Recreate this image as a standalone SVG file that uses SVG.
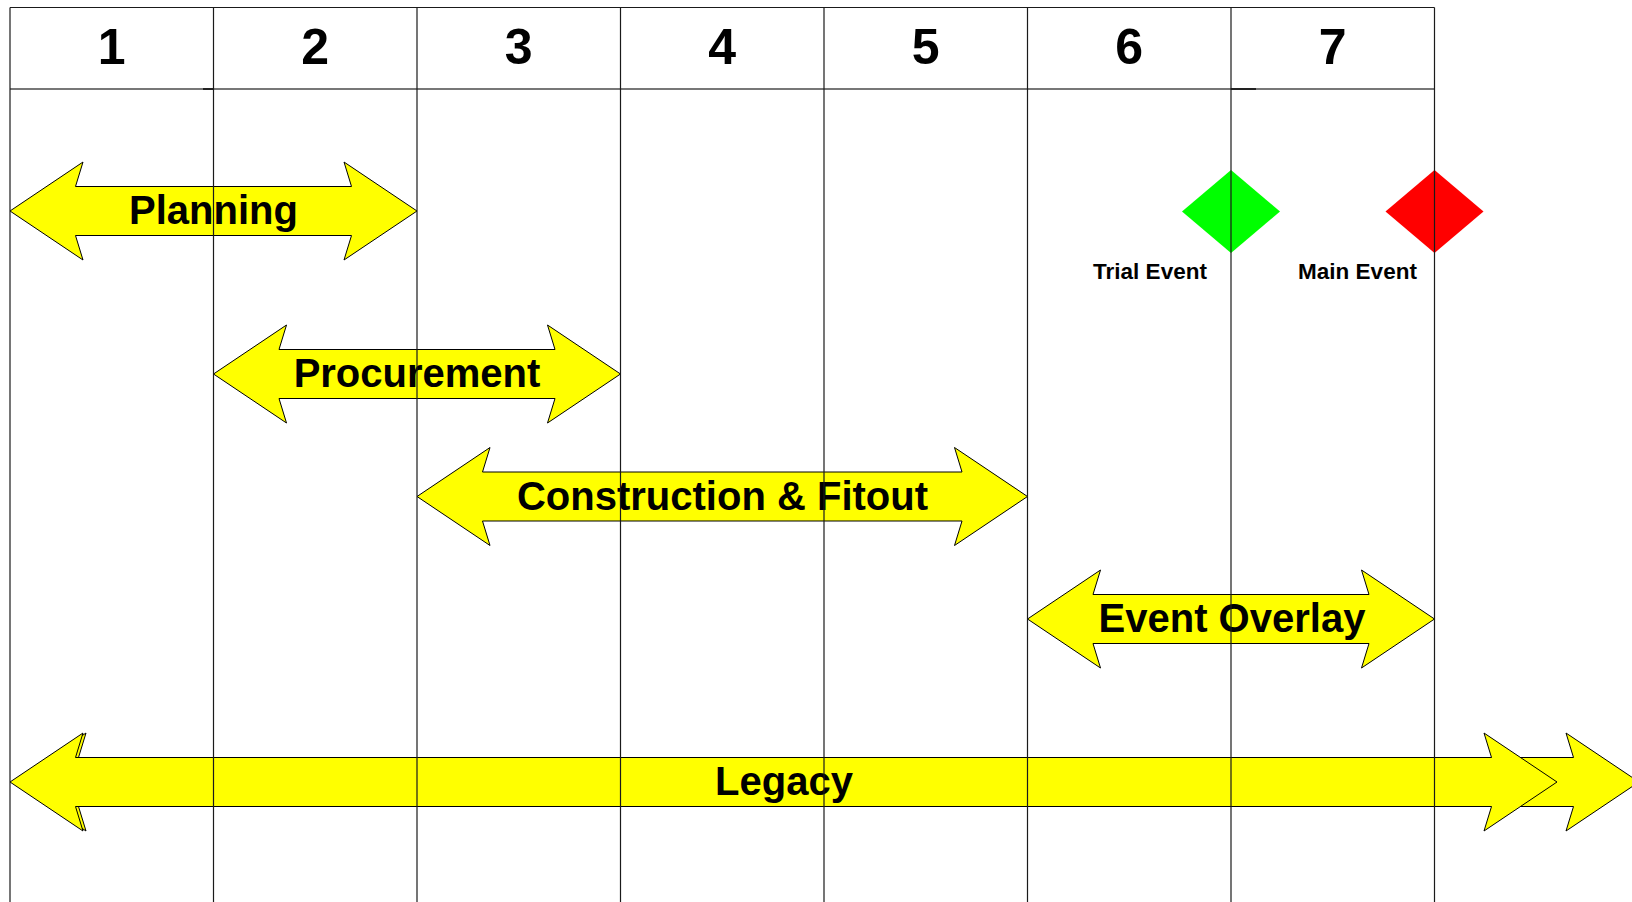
<svg xmlns="http://www.w3.org/2000/svg" width="1632" height="902" viewBox="0 0 1632 902">
<style>
.bg{fill:#ffffff}
.num{font-family:"Liberation Sans",Arial,sans-serif;font-weight:bold;font-size:50px;fill:#000;text-anchor:middle}
.lbl{font-family:"Liberation Sans",Arial,sans-serif;font-weight:bold;font-size:40px;fill:#000;text-anchor:middle}
.ev{font-family:"Liberation Sans",Arial,sans-serif;font-weight:bold;font-size:22.5px;fill:#000;text-anchor:middle}
.arrow{fill:#ffff00;stroke:#000;stroke-width:1;stroke-linejoin:miter}
.vline{stroke:#1a1a1a;stroke-width:1.2;fill:none}
.hline{stroke:#777;stroke-width:2;fill:none}
</style>
<rect class="bg" x="0" y="0" width="1632" height="902"/>

<g id="header-labels">
<text class="num" x="111.75" y="64">1</text>
<text class="num" x="315.25" y="64">2</text>
<text class="num" x="518.75" y="64">3</text>
<text class="num" x="722.25" y="64">4</text>
<text class="num" x="925.75" y="64">5</text>
<text class="num" x="1129.25" y="64">6</text>
<text class="num" x="1332.75" y="64">7</text>
</g>

<g id="legacy">
<path class="arrow" d="M13,782 L86,733 L78.5,757.5 L1573.5,757.5 L1566,733 L1639,782 L1566,831 L1573.5,806.5 L78.5,806.5 L86,831 Z"/>
<path class="arrow" d="M10,782 L83,733 L75.5,757.5 L1491.5,757.5 L1484,733 L1557,782 L1484,831 L1491.5,806.5 L75.5,806.5 L83,831 Z"/>
<text class="lbl" x="784" y="795">Legacy</text>
</g>

<g id="planning">
<path class="arrow" d="M10,211 L83,162 L75.5,186.5 L351.5,186.5 L344,162 L417,211 L344,260 L351.5,235.5 L75.5,235.5 L83,260 Z"/>
<text class="lbl" x="213.5" y="223.5">Planning</text>
</g>

<g id="procurement">
<path class="arrow" d="M213.5,374 L286.5,325 L279,349.5 L555,349.5 L547.5,325 L620.5,374 L547.5,423 L555,398.5 L279,398.5 L286.5,423 Z"/>
<text class="lbl" x="417" y="387">Procurement</text>
</g>

<g id="construction">
<path class="arrow" d="M417,496.5 L490,447.5 L482.5,472 L962,472 L954.5,447.5 L1027.5,496.5 L954.5,545.5 L962,521 L482.5,521 L490,545.5 Z"/>
<text class="lbl" x="722.5" y="510">Construction &amp; Fitout</text>
</g>

<g id="event-overlay">
<path class="arrow" d="M1027.5,619 L1100.5,570 L1093,594.5 L1369,594.5 L1361.5,570 L1434.5,619 L1361.5,668 L1369,643.5 L1093,643.5 L1100.5,668 Z"/>
<text class="lbl" x="1232" y="632">Event Overlay</text>
</g>

<g id="trial-event">
<path d="M1231,170 L1280,211.5 L1231,253 L1182,211.5 Z" fill="#00ff00"/>
<text class="ev" x="1150" y="278.5">Trial Event</text>
</g>

<g id="main-event">
<path d="M1434.5,170 L1483.5,211.5 L1434.5,253 L1385.5,211.5 Z" fill="#ff0000"/>
<text class="ev" x="1357.5" y="278.5">Main Event</text>
</g>

<g id="grid">
<line class="hline" x1="10" y1="89" x2="1434.5" y2="89"/>
<line x1="203" y1="89" x2="213.5" y2="89" stroke="#222" stroke-width="2"/>
<line x1="1231" y1="89" x2="1256" y2="89" stroke="#222" stroke-width="2"/>
<line class="vline" x1="10" y1="7.5" x2="1434.5" y2="7.5"/>
<line class="vline" x1="10" y1="7.5" x2="10" y2="902"/>
<line class="vline" x1="213.5" y1="7.5" x2="213.5" y2="902"/>
<line class="vline" x1="417" y1="7.5" x2="417" y2="902"/>
<line class="vline" x1="620.5" y1="7.5" x2="620.5" y2="902"/>
<line class="vline" x1="824" y1="7.5" x2="824" y2="902"/>
<line class="vline" x1="1027.5" y1="7.5" x2="1027.5" y2="902"/>
<line class="vline" x1="1231" y1="7.5" x2="1231" y2="902"/>
<line class="vline" x1="1434.5" y1="7.5" x2="1434.5" y2="902"/>
</g>

<g id="connectors"></g>
</svg>
